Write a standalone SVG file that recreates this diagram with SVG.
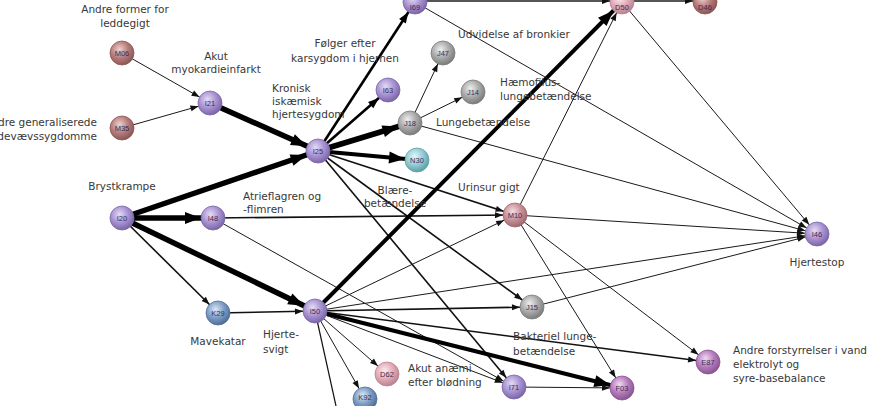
<svg xmlns="http://www.w3.org/2000/svg" width="895" height="406" viewBox="0 0 895 406">
<style>
.lbl{font-family:"DejaVu Sans","Liberation Sans",Arial,sans-serif;font-size:10.5px;fill:#383838}
.c{text-anchor:middle}
.code{font-family:"Liberation Sans",Arial,sans-serif;font-size:7.5px;fill:#3b2d55;text-anchor:middle;dominant-baseline:central}
.n circle{stroke-width:0.8}
.l1{stroke:#1a1a1a;stroke-width:1;fill:none;marker-end:url(#a1)}
.l2{stroke:#111;stroke-width:1.6;fill:none;marker-end:url(#a1)}
.l3{stroke:#000;stroke-width:2.6;fill:none;marker-end:url(#a2)}
.l4{stroke:#000;stroke-width:4;fill:none;marker-end:url(#a3)}
.l5{stroke:#000;stroke-width:5.5;fill:none;marker-end:url(#a3)}
.gt{stroke:#555;stroke-width:2.2;fill:none;marker-end:url(#a1)}
</style>
<defs>
<marker id="a1" markerUnits="userSpaceOnUse" viewBox="0 0 8 6" markerWidth="8" markerHeight="6" refX="20" refY="3" orient="auto" overflow="visible"><path d="M0,0 L8,3 L0,6 z" fill="#111"/></marker>
<marker id="a2" markerUnits="userSpaceOnUse" viewBox="0 0 11 8" markerWidth="11" markerHeight="8" refX="23" refY="4" orient="auto" overflow="visible"><path d="M0,0 L11,4 L0,8 z" fill="#000"/></marker>
<marker id="a3" markerUnits="userSpaceOnUse" viewBox="0 0 16 12" markerWidth="16" markerHeight="12" refX="28" refY="6" orient="auto" overflow="visible"><path d="M0,0 L16,6 L0,12 z" fill="#000"/></marker>
<radialGradient id="gP" cx="0.4" cy="0.35" r="0.65"><stop offset="0" stop-color="#e4dcf4"/><stop offset="0.55" stop-color="#a892d2"/><stop offset="1" stop-color="#7b66a8"/></radialGradient>
<radialGradient id="gB" cx="0.4" cy="0.35" r="0.65"><stop offset="0" stop-color="#ecd2cf"/><stop offset="0.55" stop-color="#b77c7a"/><stop offset="1" stop-color="#8c5756"/></radialGradient>
<radialGradient id="gG" cx="0.4" cy="0.35" r="0.65"><stop offset="0" stop-color="#eeeeee"/><stop offset="0.55" stop-color="#aaaaaa"/><stop offset="1" stop-color="#7c7c7c"/></radialGradient>
<radialGradient id="gT" cx="0.4" cy="0.35" r="0.65"><stop offset="0" stop-color="#e4f6f8"/><stop offset="0.55" stop-color="#93cdd6"/><stop offset="1" stop-color="#5e9fa8"/></radialGradient>
<radialGradient id="gL" cx="0.4" cy="0.35" r="0.65"><stop offset="0" stop-color="#dde8f5"/><stop offset="0.55" stop-color="#7e9dc6"/><stop offset="1" stop-color="#4f6e98"/></radialGradient>
<radialGradient id="gK" cx="0.4" cy="0.35" r="0.65"><stop offset="0" stop-color="#fbe9ee"/><stop offset="0.55" stop-color="#e2abb7"/><stop offset="1" stop-color="#b98390"/></radialGradient>
<radialGradient id="gR" cx="0.4" cy="0.35" r="0.65"><stop offset="0" stop-color="#f3dde0"/><stop offset="0.55" stop-color="#c99299"/><stop offset="1" stop-color="#9e6a71"/></radialGradient>
<radialGradient id="gM" cx="0.4" cy="0.35" r="0.65"><stop offset="0" stop-color="#f1daf1"/><stop offset="0.55" stop-color="#b57cbd"/><stop offset="1" stop-color="#8a5592"/></radialGradient>
</defs>
<rect width="895" height="406" fill="#fff"/>

<g id="connectors">
<line class="gt" x1="415" y1="1" x2="622" y2="1"/>
<line class="gt" x1="622" y1="1" x2="705" y2="1"/>
<line class="l1" x1="122" y1="53" x2="210" y2="103"/>
<line class="l1" x1="122" y1="128" x2="210" y2="103"/>
<line class="l5" x1="210" y1="103" x2="318" y2="151"/>
<line class="l5" x1="122" y1="218" x2="318" y2="151"/>
<line class="l5" x1="122" y1="218" x2="213" y2="218"/>
<line class="l5" x1="122" y1="218" x2="315" y2="311"/>
<line class="l2" x1="122" y1="218" x2="218" y2="313"/>
<line class="l2" x1="218" y1="313" x2="315" y2="311"/>
<line class="l3" x1="318" y1="151" x2="415" y2="2"/>
<line class="l3" x1="318" y1="151" x2="388" y2="90"/>
<line class="l5" x1="318" y1="151" x2="410" y2="123"/>
<line class="l4" x1="318" y1="151" x2="417" y2="160"/>
<line class="l2" x1="318" y1="151" x2="515" y2="215"/>
<line class="l2" x1="318" y1="151" x2="532" y2="307"/>
<line class="l2" x1="318" y1="151" x2="514" y2="387"/>
<line class="l1" x1="410" y1="123" x2="443" y2="53"/>
<line class="l1" x1="410" y1="123" x2="473" y2="92"/>
<line class="l1" x1="410" y1="123" x2="817" y2="234"/>
<line class="l2" x1="213" y1="218" x2="515" y2="215"/>
<line class="l1" x1="213" y1="218" x2="514" y2="387"/>
<line class="l4" x1="315" y1="311" x2="622" y2="2"/>
<line class="l1" x1="315" y1="311" x2="515" y2="215"/>
<line class="l1" x1="315" y1="311" x2="817" y2="234"/>
<line class="l2" x1="315" y1="311" x2="532" y2="307"/>
<line class="l2" x1="315" y1="311" x2="708" y2="362"/>
<line class="l4" x1="315" y1="311" x2="622" y2="388"/>
<line class="l1" x1="315" y1="311" x2="387" y2="374"/>
<line class="l1" x1="315" y1="311" x2="365" y2="399"/>
<line class="l1" x1="315" y1="311" x2="514" y2="387"/>
<line stroke="#111" stroke-width="1.2" x1="315" y1="311" x2="336" y2="406"/>
<line class="l1" x1="514" y1="387" x2="622" y2="388"/>
<line class="l1" x1="515" y1="215" x2="622" y2="388"/>
<line class="l1" x1="515" y1="215" x2="708" y2="362"/>
<line class="l1" x1="515" y1="215" x2="817" y2="234"/>
<line class="l1" x1="515" y1="215" x2="622" y2="2"/>
<line class="l1" x1="532" y1="307" x2="817" y2="234"/>
<line class="l1" x1="415" y1="2" x2="817" y2="234"/>
<line class="l1" x1="622" y1="2" x2="817" y2="234"/>
</g>

<g id="M06" class="n"><circle cx="122" cy="53" r="12" fill="url(#gB)" stroke="#8c5756"/><text class="code" x="122" y="53">M06</text></g>
<g id="M35" class="n"><circle cx="122" cy="128" r="12" fill="url(#gB)" stroke="#8c5756"/><text class="code" x="122" y="128">M35</text></g>
<g id="I21" class="n"><circle cx="210" cy="103" r="12" fill="url(#gP)" stroke="#7b66a8"/><text class="code" x="210" y="103">I21</text></g>
<g id="I25" class="n"><circle cx="318" cy="151" r="12" fill="url(#gP)" stroke="#7b66a8"/><text class="code" x="318" y="151">I25</text></g>
<g id="I20" class="n"><circle cx="122" cy="218" r="12" fill="url(#gP)" stroke="#7b66a8"/><text class="code" x="122" y="218">I20</text></g>
<g id="I48" class="n"><circle cx="213" cy="218" r="12" fill="url(#gP)" stroke="#7b66a8"/><text class="code" x="213" y="218">I48</text></g>
<g id="K29" class="n"><circle cx="218" cy="313" r="12" fill="url(#gL)" stroke="#4f6e98"/><text class="code" x="218" y="313">K29</text></g>
<g id="I50" class="n"><circle cx="315" cy="311" r="12" fill="url(#gP)" stroke="#7b66a8"/><text class="code" x="315" y="311">I50</text></g>
<g id="I69" class="n"><circle cx="415" cy="2" r="12" fill="url(#gP)" stroke="#7b66a8"/><text class="code" x="415" y="7">I69</text></g>
<g id="J47" class="n"><circle cx="443" cy="53" r="12" fill="url(#gG)" stroke="#7c7c7c"/><text class="code" x="443" y="53">J47</text></g>
<g id="I63" class="n"><circle cx="388" cy="90" r="12" fill="url(#gP)" stroke="#7b66a8"/><text class="code" x="388" y="90">I63</text></g>
<g id="J18" class="n"><circle cx="410" cy="123" r="12" fill="url(#gG)" stroke="#7c7c7c"/><text class="code" x="410" y="123">J18</text></g>
<g id="J14" class="n"><circle cx="473" cy="92" r="12" fill="url(#gG)" stroke="#7c7c7c"/><text class="code" x="473" y="92">J14</text></g>
<g id="N30" class="n"><circle cx="417" cy="160" r="12" fill="url(#gT)" stroke="#5e9fa8"/><text class="code" x="417" y="160">N30</text></g>
<g id="M10" class="n"><circle cx="515" cy="215" r="12" fill="url(#gR)" stroke="#9e6a71"/><text class="code" x="515" y="215">M10</text></g>
<g id="J15" class="n"><circle cx="532" cy="307" r="12" fill="url(#gG)" stroke="#7c7c7c"/><text class="code" x="532" y="307">J15</text></g>
<g id="D62" class="n"><circle cx="387" cy="374" r="12" fill="url(#gK)" stroke="#b98390"/><text class="code" x="387" y="374">D62</text></g>
<g id="K92" class="n"><circle cx="365" cy="399" r="12" fill="url(#gL)" stroke="#4f6e98"/><text class="code" x="365" y="397">K92</text></g>
<g id="I71" class="n"><circle cx="514" cy="387" r="12" fill="url(#gP)" stroke="#7b66a8"/><text class="code" x="514" y="387">I71</text></g>
<g id="F03" class="n"><circle cx="622" cy="388" r="12" fill="url(#gM)" stroke="#8a5592"/><text class="code" x="622" y="388">F03</text></g>
<g id="E87" class="n"><circle cx="708" cy="362" r="12" fill="url(#gM)" stroke="#8a5592"/><text class="code" x="708" y="362">E87</text></g>
<g id="I46" class="n"><circle cx="817" cy="234" r="12" fill="url(#gP)" stroke="#7b66a8"/><text class="code" x="817" y="234">I46</text></g>
<g id="D50" class="n"><circle cx="622" cy="2" r="12" fill="url(#gK)" stroke="#b98390"/><text class="code" x="622" y="7">D50</text></g>
<g id="D46" class="n"><circle cx="705" cy="2" r="12" fill="url(#gB)" stroke="#8c5756"/><text class="code" x="705" y="7">D46</text></g>

<g id="labels">
<text class="lbl c" x="125" y="13">Andre former for</text>
<text class="lbl c" x="125" y="27">leddegigt</text>
<text class="lbl c" x="216" y="60">Akut</text>
<text class="lbl c" x="216" y="73">myokardieinfarkt</text>
<text class="lbl" x="97" y="126" text-anchor="end">Andre generaliserede</text>
<text class="lbl" x="97" y="140" text-anchor="end">bindevævssygdomme</text>
<text class="lbl" x="272" y="92">Kronisk</text>
<text class="lbl" x="272" y="105">iskæmisk</text>
<text class="lbl" x="272" y="118">hjertesygdom</text>
<text class="lbl c" x="345" y="47">Følger efter</text>
<text class="lbl c" x="345" y="62">karsygdom i hjernen</text>
<text class="lbl" x="458" y="38">Udvidelse af bronkier</text>
<text class="lbl" x="500" y="86">Hæmofilus-</text>
<text class="lbl" x="500" y="100">lungebetændelse</text>
<text class="lbl" x="436" y="126">Lungebetændelse</text>
<text class="lbl c" x="395" y="194">Blære-</text>
<text class="lbl c" x="395" y="207">betændelse</text>
<text class="lbl" x="458" y="191">Urinsur gigt</text>
<text class="lbl c" x="122" y="190">Brystkrampe</text>
<text class="lbl" x="243" y="200">Atrieflagren og</text>
<text class="lbl" x="243" y="213">-flimren</text>
<text class="lbl c" x="218" y="345">Mavekatar</text>
<text class="lbl" x="263" y="338">Hjerte-</text>
<text class="lbl" x="263" y="353">svigt</text>
<text class="lbl" x="513" y="340">Bakteriel lunge-</text>
<text class="lbl" x="513" y="355">betændelse</text>
<text class="lbl" x="408" y="372">Akut anæmi</text>
<text class="lbl" x="408" y="386">efter blødning</text>
<text class="lbl" x="733" y="354">Andre forstyrrelser i vand</text>
<text class="lbl" x="733" y="368">elektrolyt og</text>
<text class="lbl" x="733" y="382">syre-basebalance</text>
<text class="lbl c" x="817" y="266">Hjertestop</text>
</g>
</svg>
